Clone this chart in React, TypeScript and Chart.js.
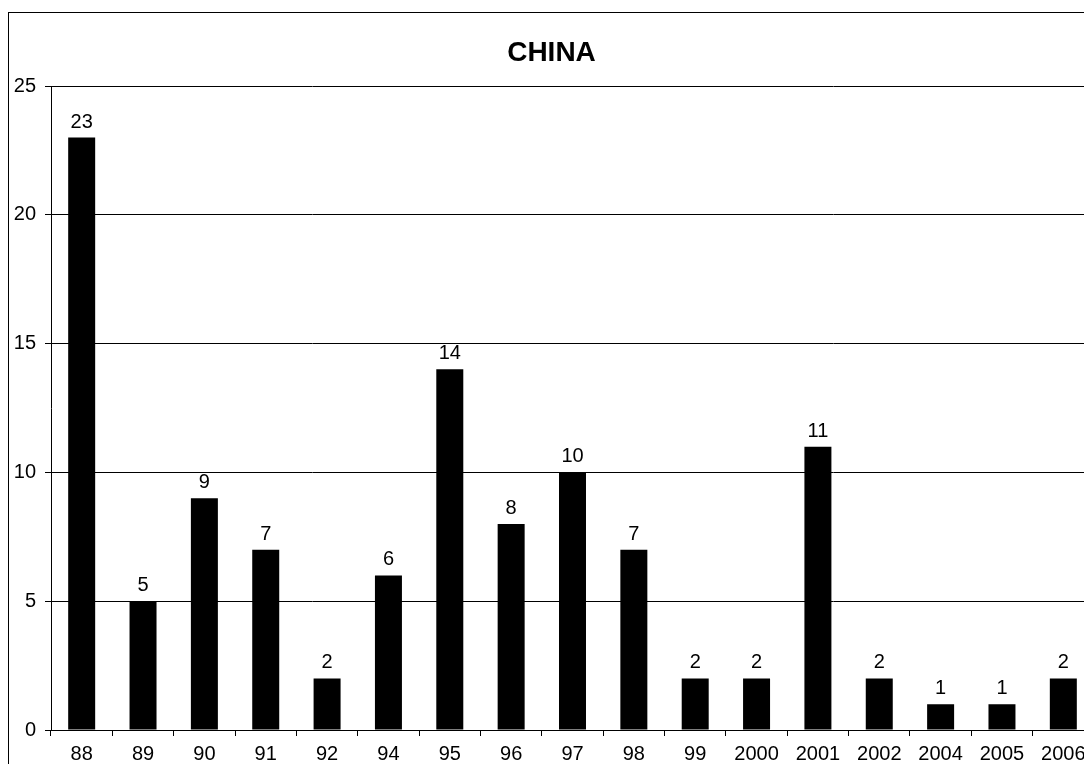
import React, { useEffect, useRef } from "react";
import { Chart, registerables } from "chart.js";
Chart.register(...registerables);

const categories = ["88", "89", "90", "91", "92", "94", "95", "96", "97", "98", "99", "2000", "2001", "2002", "2004", "2005", "2006"];
const counts = [23, 5, 9, 7, 2, 6, 14, 8, 10, 7, 2, 2, 11, 2, 1, 1, 2];
const yTicks = [0, 5, 10, 15, 20, 25];
const chartTitle = "CHINA";

const FONT = "'Liberation Sans', Arial, Helvetica, sans-serif";

export default function App() {
  const ref = useRef<HTMLCanvasElement>(null);
  useEffect(() => {
    const labelPlugin = {
      id: "valueLabels",
      afterDatasetsDraw(chart: any) {
        const ctx = chart.ctx;
        const meta = chart.getDatasetMeta(0);
        ctx.save();
        ctx.font = `20px ${FONT}`;
        ctx.fillStyle = "#000";
        ctx.textAlign = "center";
        ctx.textBaseline = "alphabetic";
        meta.data.forEach((bar: any, i: number) => {
          ctx.fillText(String(counts[i]), bar.x, bar.y - 10);
        });
        ctx.restore();
      },
    };
    const chart = new Chart(ref.current as HTMLCanvasElement, {
      type: "bar",
      data: {
        labels: categories,
        datasets: [
          {
            data: counts,
            backgroundColor: "#000",
            barPercentage: 0.44,
            categoryPercentage: 1,
          },
        ],
      },
      options: {
        animation: false,
        responsive: false,
        maintainAspectRatio: false,
        layout: { padding: { left: 0, right: 5, top: 0, bottom: 0 } },
        plugins: {
          legend: { display: false },
          tooltip: { enabled: false },
          title: {
            display: true,
            text: chartTitle,
            color: "#000",
            font: { family: FONT, size: 28, weight: "bold" },
            padding: { top: 23, bottom: 16.4 },
          },
        },
        scales: {
          x: {
            grid: { drawOnChartArea: false, color: "#000", tickLength: 6, offset: true },
            border: { color: "#000" },
            ticks: { color: "#000", font: { family: FONT, size: 20 }, padding: 6, maxRotation: 0, autoSkip: false },
            afterFit(s: any) {
              s.height = 53;
            },
          },
          y: {
            min: 0,
            max: 25,
            grid: { color: "#000", tickLength: 6 },
            border: { color: "#000" },
            ticks: { color: "#000", font: { family: FONT, size: 20 }, padding: 9 },
            afterBuildTicks(s: any) {
              s.ticks = yTicks.map((v) => ({ value: v }));
            },
            afterFit(s: any) {
              s.width = 42;
            },
          },
        },
      },
      plugins: [labelPlugin],
    } as any);
    return () => chart.destroy();
  }, []);

  return (
    <div style={{ position: "fixed", left: 0, top: 0, right: 0, bottom: 0, overflow: "hidden", background: "#fff" }}>
      <div style={{ position: "absolute", left: 8, top: 12, border: "1px solid #000", background: "#fff" }}>
        <canvas ref={ref} width={1090} height={770} style={{ display: "block", width: 1090, height: 770 }} />
      </div>
    </div>
  );
}
